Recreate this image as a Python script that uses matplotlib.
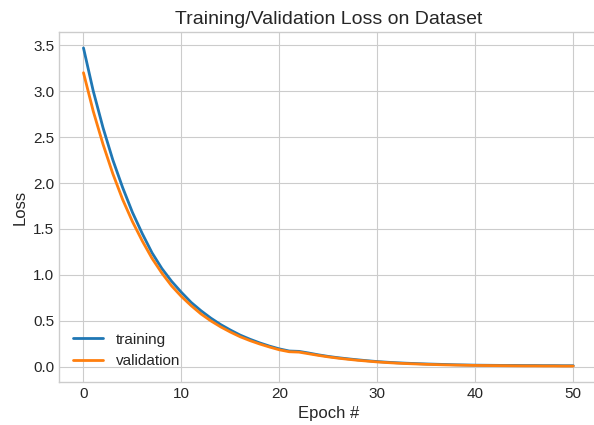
# Training / validation loss curves per epoch

import matplotlib
matplotlib.use("Agg")
import matplotlib.pyplot as plt

plt.style.use("seaborn-v0_8-whitegrid")
plt.rcParams["font.family"] = "sans-serif"
plt.rcParams["font.sans-serif"] = ["Liberation Sans", "DejaVu Sans"]

epochs = list(range(51))

train_loss = [3.47, 3.00, 2.60, 2.25, 1.95, 1.68, 1.45, 1.24, 1.07, 0.93,
              0.81, 0.70, 0.61, 0.53, 0.46, 0.40, 0.345, 0.30, 0.26, 0.225,
              0.195, 0.172, 0.168, 0.150, 0.130, 0.113, 0.099, 0.087, 0.076, 0.066,
              0.057, 0.050, 0.044, 0.039, 0.035, 0.031, 0.028, 0.025, 0.022, 0.020,
              0.018, 0.017, 0.016, 0.015, 0.015, 0.014, 0.014, 0.013, 0.013, 0.012,
              0.012]

val_loss = [3.20, 2.78, 2.42, 2.10, 1.82, 1.58, 1.37, 1.18, 1.02, 0.88,
            0.765, 0.665, 0.575, 0.50, 0.435, 0.378, 0.327, 0.285, 0.248, 0.215,
            0.185, 0.164, 0.160, 0.142, 0.124, 0.108, 0.094, 0.082, 0.071, 0.062,
            0.053, 0.046, 0.040, 0.035, 0.031, 0.027, 0.024, 0.021, 0.019, 0.017,
            0.015, 0.014, 0.013, 0.012, 0.011, 0.010, 0.010, 0.009, 0.009, 0.008,
            0.008]

fig = plt.figure(figsize=(5.94, 4.25), dpi=100)
ax = fig.add_axes([0.0993, 0.1012, 0.907, 0.8235])

ax.plot(epochs, train_loss, color="#1f77b4", linewidth=2, label="training")
ax.plot(epochs, val_loss, color="#ff7f0e", linewidth=2, label="validation")

ax.set_title("Training/Validation Loss on Dataset", fontsize=14, color="0.15")
ax.set_xlabel("Epoch #", fontsize=12, color="0.15")
ax.set_ylabel("Loss", fontsize=12, color="0.15")
ax.tick_params(labelsize=11, colors="0.15")
for s in ax.spines.values():
    s.set_visible(True)
    s.set_color("0.8")
ax.legend(loc="lower left", fontsize=11, frameon=False)

fig.savefig("out.png", dpi=100)
